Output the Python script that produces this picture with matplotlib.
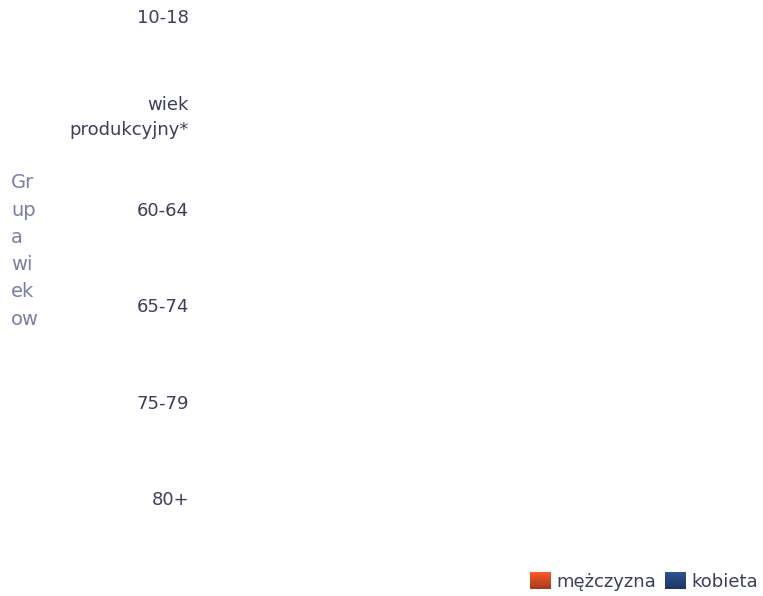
import matplotlib
matplotlib.use("Agg")
import matplotlib.pyplot as plt
from matplotlib.patches import Patch, Rectangle
from matplotlib.legend_handler import HandlerBase
from matplotlib.colors import to_rgb

# age groups and values (no bars are visible in the chart -> all zero)
groups = ["10-18", "wiek\nprodukcyjny*", "60-64", "65-74", "75-79", "80+"]
men = [0, 0, 0, 0, 0, 0]
women = [0, 0, 0, 0, 0, 0]
series_names = ["mężczyzna", "kobieta"]
series_colors = ["#cf4a22", "#25447a"]
axis_title = "Gr\nup\na\nwi\nek\now"


class GradientHandler(HandlerBase):
    # legend icon with a light-to-dark vertical shading
    def create_artists(self, legend, orig_handle, xdescent, ydescent,
                       width, height, fontsize, trans):
        base = to_rgb(orig_handle.get_facecolor())
        n = 8
        arts = []
        for i in range(n):
            f = 1.2 - 0.4 * i / (n - 1)
            col = tuple(min(1, c * f) for c in base)
            r = Rectangle((-xdescent, -ydescent + height * (n - 1 - i) / n),
                          width, height / n, facecolor=col, edgecolor="none",
                          transform=trans)
            arts.append(r)
        return arts


W, H = 763, 596
fig = plt.figure(figsize=(W / 100, H / 100), dpi=100)
plt.rcParams['font.family'] = ['DejaVu Sans']

# axes: pixel 200..760 horizontally, 0..540 vertically
ax = fig.add_axes([200 / W, 1 - 540 / H, 560 / W, 540 / H])
pos = list(range(len(groups)))
h = 0.35
ax.barh([p - h / 2 for p in pos], men, height=h, color=series_colors[0])
ax.barh([p + h / 2 for p in pos], women, height=h, color=series_colors[1])
ax.set_ylim(5.43, -0.165)
ax.set_xlim(0, 1)
ax.set_yticks(pos)
ax.set_yticklabels(groups, fontsize=13, color="#3c3f58", ha="right",
                   multialignment="right", linespacing=1.45)
ax.tick_params(axis="y", length=0, pad=8)
ax.set_xticks([])
for s in ax.spines.values():
    s.set_visible(False)

fig.text(11 / W, 1 - 251 / H, axis_title, fontsize=14, color="#7b7fa3",
         ha="left", va="center", linespacing=1.55)

handles = [Patch(facecolor=c, edgecolor="none") for c in series_colors]
fig.legend(handles, series_names, loc="lower right", bbox_to_anchor=(1.0, 0.0),
           ncol=2, frameon=False, fontsize=13, labelcolor="#3c3f58",
           handlelength=1.15, handleheight=1.1, handletextpad=0.3,
           columnspacing=0.5, borderaxespad=0.0, borderpad=0.3,
           handler_map={Patch: GradientHandler()})

fig.savefig("out.png", dpi=100, facecolor="white")
